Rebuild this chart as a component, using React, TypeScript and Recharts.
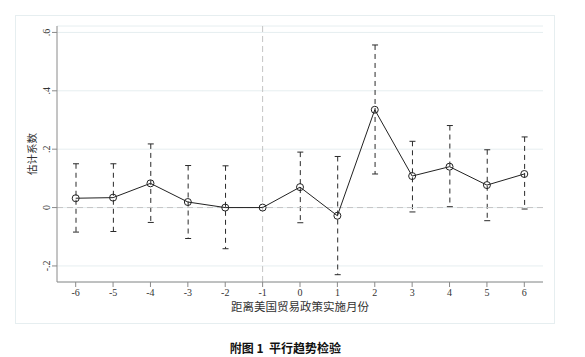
import {
    Bar,
    CartesianGrid,
    ComposedChart,
    Label,
    Line,
    ReferenceLine,
    XAxis,
    YAxis,
} from 'recharts'

const MONTHS = [-6, -5, -4, -3, -2, -1, 0, 1, 2, 3, 4, 5, 6]
const COEF = [0.032, 0.034, 0.083, 0.019, 0.0, 0.0, 0.07, -0.028, 0.335, 0.108, 0.14, 0.077, 0.115]
const CI_LOW = [-0.084, -0.082, -0.051, -0.106, -0.141, null, -0.052, -0.23, 0.115, -0.015, 0.003, -0.045, -0.005]
const CI_HIGH = [0.15, 0.15, 0.218, 0.144, 0.143, null, 0.19, 0.175, 0.557, 0.227, 0.281, 0.198, 0.242]
const Y_TICKS = [-0.2, 0, 0.2, 0.4, 0.6]

const data = MONTHS.map((m, i) => ({
    month: m,
    coef: COEF[i],
    ci: CI_LOW[i] == null ? null : [CI_LOW[i], CI_HIGH[i]],
}))

const SERIF = '"Liberation Serif", "DejaVu Serif", serif'
const CJK = '"Noto Sans CJK SC", sans-serif'
const AXIS = '#8a8a8a'
const TEXT = '#333'

function fmtY(v: number) {
    if (v === 0) return '0'
    const s = v.toFixed(1)
    return s.replace('0.', '.')
}

function YTick(props: any) {
    const { x, y, payload } = props
    const cx = x - 3
    return (
        <text
            x={cx}
            y={y}
            transform={`rotate(-90, ${cx}, ${y})`}
            textAnchor="middle"
            dominantBaseline="central"
            fontSize={10}
            fontFamily={SERIF}
            fill={TEXT}
        >
            {fmtY(payload.value)}
        </text>
    )
}

function CiShape(props: any) {
    const { x, y, width, height } = props
    if (x == null || y == null) return null
    const cx = x + width / 2
    const top = Math.min(y, y + height)
    const bot = Math.max(y, y + height)
    return (
        <g>
            <line x1={cx} x2={cx} y1={top} y2={bot} stroke="#2a2a2a" strokeWidth={1} strokeDasharray="5 4" />
            <line x1={cx - 3} x2={cx + 3} y1={top} y2={top} stroke="#2a2a2a" strokeWidth={1} />
            <line x1={cx - 3} x2={cx + 3} y1={bot} y2={bot} stroke="#2a2a2a" strokeWidth={1} />
        </g>
    )
}

export default function App() {
    return (
        <div style={{ position: 'absolute', left: 0, top: 0, width: 585, height: 357, background: '#fff' }}>
            <div
                style={{
                    position: 'absolute',
                    left: 15,
                    top: 15,
                    width: 538,
                    height: 307,
                    border: '1px solid #e6eef0',
                }}
            />
            <div style={{ position: 'absolute', left: 0, top: 0 }}>
                <ComposedChart
                    width={585}
                    height={357}
                    data={data}
                    margin={{ top: 26, right: 42, bottom: 45, left: 37 }}
                >
                    <CartesianGrid vertical={false} stroke="#e6eef0" />
                    <XAxis
                        dataKey="month"
                        type="number"
                        domain={[-6.5, 6.5]}
                        ticks={MONTHS}
                        height={30}
                        tickSize={5}
                        tickMargin={2}
                        stroke={AXIS}
                        tick={{ fontSize: 10, fontFamily: SERIF, fill: TEXT }}
                        tickLine={{ stroke: AXIS }}
                        interval={0}
                    >
                        <Label
                            content={({ viewBox }: any) => (
                                <text
                                    x={viewBox.x + viewBox.width / 2}
                                    y={306}
                                    textAnchor="middle"
                                    dominantBaseline="central"
                                    fontSize={11.5}
                                    fontFamily={CJK}
                                    fill={TEXT}
                                >
                                    距离美国贸易政策实施月份
                                </text>
                            )}
                        />
                    </XAxis>
                    <YAxis
                        type="number"
                        domain={[-0.255, 0.622]}
                        ticks={Y_TICKS}
                        width={20}
                        tickSize={5}
                        tickMargin={2}
                        stroke={AXIS}
                        tick={<YTick />}
                        tickLine={{ stroke: AXIS }}
                        interval={0}
                    >
                        <Label
                            content={() => {
                                const cy = 26 + 256 / 2
                                return (
                                    <text
                                        x={31}
                                        y={cy}
                                        transform={`rotate(-90, 31, ${cy})`}
                                        textAnchor="middle"
                                        dominantBaseline="central"
                                        fontSize={10.5}
                                        fontFamily={CJK}
                                        fill={TEXT}
                                    >
                                        估计系数
                                    </text>
                                )
                            }}
                        />
                    </YAxis>
                    <ReferenceLine y={0} stroke="#c4c4c4" strokeDasharray="6 4" />
                    <ReferenceLine x={-1} stroke="#c4c4c4" strokeDasharray="6 4" />
                    <Bar dataKey="ci" barSize={6} shape={<CiShape />} isAnimationActive={false} />
                    <Line
                        dataKey="coef"
                        stroke="#222"
                        strokeWidth={1}
                        dot={{ r: 3.5, fill: 'none', stroke: '#222', strokeWidth: 1 }}
                        activeDot={false}
                        isAnimationActive={false}
                    />
                </ComposedChart>
            </div>
            <div
                style={{
                    position: 'absolute',
                    left: 0,
                    width: 571,
                    top: 339,
                    textAlign: 'center',
                    fontFamily: CJK,
                    fontWeight: 700,
                    fontSize: 12,
                    whiteSpace: 'pre',
                    color: '#111',
                }}
            >
                附图 1  平行趋势检验
            </div>
        </div>
    )
}
